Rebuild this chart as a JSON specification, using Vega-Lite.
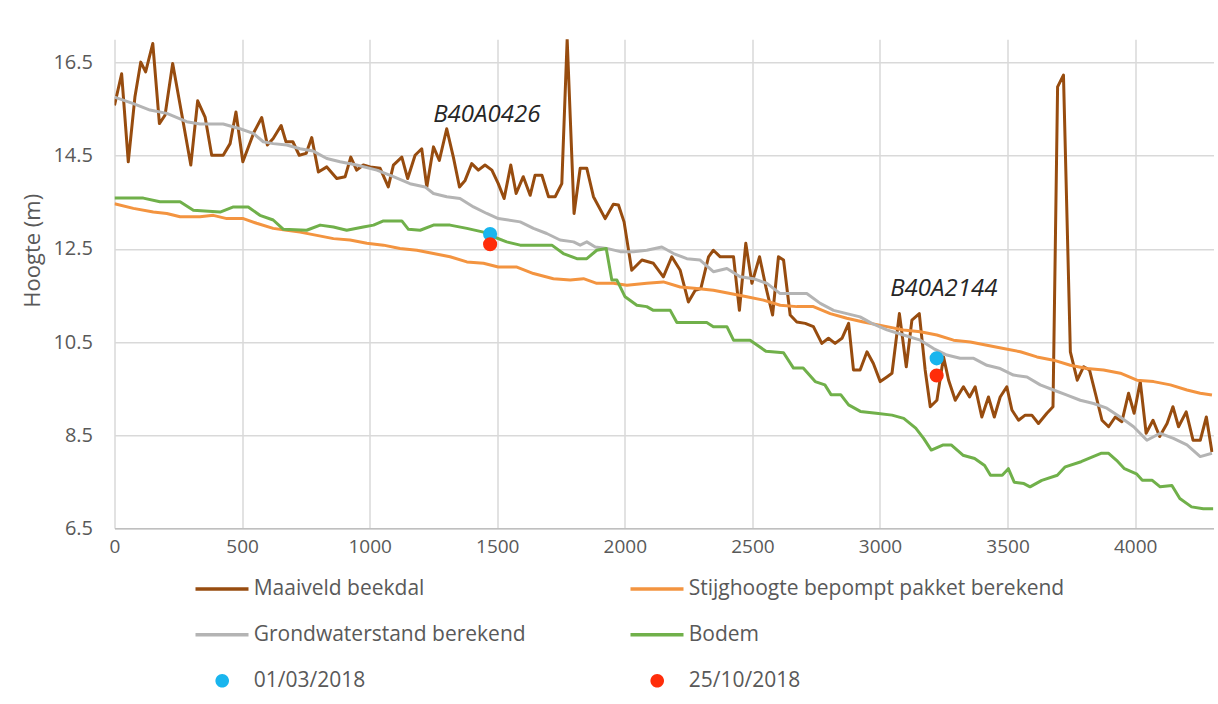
{
  "$schema": "https://vega.github.io/schema/vega-lite/v6.json",
  "width": 1099,
  "height": 489,
  "autosize": "none",
  "padding": {"left": 114.5, "top": 39.3, "right": 4.5, "bottom": 175.7},
  "background": "white",
  "config": {"view": {"stroke": null}, "font": "Open Sans"},
  "datasets": {
    "maaiveld": [
      {"x":0,"y":15.58},{"x":28,"y":16.26},{"x":54,"y":14.37},{"x":80,"y":15.76},{"x":103,"y":16.51},{"x":122,"y":16.30},{"x":150,"y":16.91},{"x":176,"y":15.19},{"x":198,"y":15.37},{"x":228,"y":16.48},{"x":263,"y":15.41},{"x":299,"y":14.30},{"x":326,"y":15.68},{"x":355,"y":15.33},{"x":381,"y":14.51},{"x":426,"y":14.51},{"x":453,"y":14.76},{"x":476,"y":15.44},{"x":503,"y":14.37},{"x":547,"y":15.01},{"x":577,"y":15.32},{"x":599,"y":14.73},{"x":622,"y":14.87},{"x":653,"y":15.15},{"x":672,"y":14.80},{"x":699,"y":14.80},{"x":724,"y":14.51},{"x":751,"y":14.55},{"x":773,"y":14.89},{"x":799,"y":14.15},{"x":832,"y":14.26},{"x":871,"y":14.01},{"x":904,"y":14.05},{"x":926,"y":14.47},{"x":949,"y":14.19},{"x":975,"y":14.30},{"x":1002,"y":14.26},{"x":1041,"y":14.23},{"x":1073,"y":13.83},{"x":1093,"y":14.30},{"x":1126,"y":14.47},{"x":1149,"y":14.01},{"x":1178,"y":14.51},{"x":1204,"y":14.65},{"x":1224,"y":13.83},{"x":1250,"y":14.69},{"x":1273,"y":14.40},{"x":1302,"y":15.08},{"x":1328,"y":14.47},{"x":1352,"y":13.83},{"x":1374,"y":13.97},{"x":1400,"y":14.33},{"x":1426,"y":14.19},{"x":1452,"y":14.30},{"x":1479,"y":14.19},{"x":1504,"y":13.90},{"x":1527,"y":13.58},{"x":1553,"y":14.30},{"x":1574,"y":13.69},{"x":1602,"y":14.05},{"x":1629,"y":13.65},{"x":1648,"y":14.08},{"x":1675,"y":14.08},{"x":1701,"y":13.62},{"x":1727,"y":13.62},{"x":1753,"y":13.90},{"x":1774,"y":17.0},{"x":1801,"y":13.26},{"x":1825,"y":14.23},{"x":1851,"y":14.23},{"x":1877,"y":13.62},{"x":1923,"y":13.15},{"x":1955,"y":13.46},{"x":1975,"y":13.44},{"x":1997,"y":13.08},{"x":2027,"y":12.04},{"x":2067,"y":12.26},{"x":2112,"y":12.19},{"x":2151,"y":11.90},{"x":2184,"y":12.33},{"x":2217,"y":12.04},{"x":2249,"y":11.36},{"x":2276,"y":11.61},{"x":2298,"y":11.65},{"x":2328,"y":12.33},{"x":2347,"y":12.47},{"x":2374,"y":12.33},{"x":2426,"y":12.33},{"x":2449,"y":11.18},{"x":2474,"y":12.62},{"x":2498,"y":11.76},{"x":2528,"y":12.33},{"x":2554,"y":11.65},{"x":2579,"y":11.08},{"x":2602,"y":12.33},{"x":2622,"y":12.26},{"x":2648,"y":11.08},{"x":2674,"y":10.93},{"x":2707,"y":10.90},{"x":2739,"y":10.83},{"x":2772,"y":10.47},{"x":2798,"y":10.58},{"x":2824,"y":10.47},{"x":2851,"y":10.58},{"x":2877,"y":10.90},{"x":2896,"y":9.90},{"x":2922,"y":9.90},{"x":2949,"y":10.29},{"x":2974,"y":10.04},{"x":3001,"y":9.65},{"x":3027,"y":9.75},{"x":3047,"y":9.83},{"x":3076,"y":11.11},{"x":3103,"y":9.97},{"x":3125,"y":10.97},{"x":3154,"y":11.11},{"x":3177,"y":9.90},{"x":3197,"y":9.11},{"x":3223,"y":9.25},{"x":3249,"y":10.18},{"x":3269,"y":9.68},{"x":3295,"y":9.25},{"x":3327,"y":9.54},{"x":3351,"y":9.32},{"x":3373,"y":9.54},{"x":3399,"y":8.89},{"x":3425,"y":9.32},{"x":3448,"y":8.89},{"x":3471,"y":9.32},{"x":3497,"y":9.54},{"x":3517,"y":9.04},{"x":3543,"y":8.82},{"x":3569,"y":8.93},{"x":3595,"y":8.93},{"x":3621,"y":8.75},{"x":3654,"y":8.97},{"x":3678,"y":9.11},{"x":3696,"y":15.98},{"x":3719,"y":16.23},{"x":3746,"y":10.29},{"x":3773,"y":9.68},{"x":3798,"y":9.97},{"x":3821,"y":9.90},{"x":3844,"y":9.40},{"x":3870,"y":8.82},{"x":3896,"y":8.68},{"x":3922,"y":8.89},{"x":3948,"y":8.79},{"x":3974,"y":9.40},{"x":3996,"y":8.97},{"x":4020,"y":9.65},{"x":4043,"y":8.54},{"x":4070,"y":8.82},{"x":4096,"y":8.47},{"x":4125,"y":8.75},{"x":4148,"y":9.11},{"x":4170,"y":8.68},{"x":4200,"y":9.00},{"x":4227,"y":8.39},{"x":4255,"y":8.39},{"x":4279,"y":8.89},{"x":4301,"y":8.14}
    ],
    "stijghoogte": [
      {"x":0,"y":13.47},{"x":74,"y":13.37},{"x":152,"y":13.29},{"x":205,"y":13.26},{"x":257,"y":13.19},{"x":335,"y":13.19},{"x":387,"y":13.22},{"x":440,"y":13.15},{"x":505,"y":13.15},{"x":557,"y":13.05},{"x":622,"y":12.94},{"x":675,"y":12.90},{"x":727,"y":12.86},{"x":793,"y":12.79},{"x":858,"y":12.72},{"x":923,"y":12.69},{"x":989,"y":12.62},{"x":1054,"y":12.58},{"x":1119,"y":12.51},{"x":1185,"y":12.47},{"x":1250,"y":12.40},{"x":1315,"y":12.33},{"x":1381,"y":12.22},{"x":1446,"y":12.19},{"x":1504,"y":12.11},{"x":1577,"y":12.11},{"x":1642,"y":11.97},{"x":1720,"y":11.86},{"x":1786,"y":11.83},{"x":1838,"y":11.86},{"x":1890,"y":11.76},{"x":1955,"y":11.76},{"x":2008,"y":11.72},{"x":2086,"y":11.76},{"x":2151,"y":11.79},{"x":2217,"y":11.68},{"x":2282,"y":11.65},{"x":2347,"y":11.61},{"x":2413,"y":11.54},{"x":2478,"y":11.47},{"x":2543,"y":11.40},{"x":2609,"y":11.29},{"x":2674,"y":11.26},{"x":2739,"y":11.26},{"x":2805,"y":11.11},{"x":2870,"y":11.01},{"x":2935,"y":10.93},{"x":3027,"y":10.83},{"x":3092,"y":10.76},{"x":3158,"y":10.72},{"x":3223,"y":10.65},{"x":3288,"y":10.54},{"x":3354,"y":10.50},{"x":3419,"y":10.43},{"x":3484,"y":10.36},{"x":3550,"y":10.29},{"x":3615,"y":10.18},{"x":3680,"y":10.11},{"x":3746,"y":10.00},{"x":3811,"y":9.93},{"x":3876,"y":9.90},{"x":3942,"y":9.83},{"x":4007,"y":9.68},{"x":4072,"y":9.65},{"x":4138,"y":9.58},{"x":4203,"y":9.47},{"x":4255,"y":9.40},{"x":4301,"y":9.36}
    ],
    "grondwater": [
      {"x":0,"y":15.76},{"x":74,"y":15.62},{"x":139,"y":15.48},{"x":205,"y":15.41},{"x":283,"y":15.23},{"x":335,"y":15.18},{"x":426,"y":15.18},{"x":492,"y":15.08},{"x":544,"y":14.98},{"x":583,"y":14.80},{"x":622,"y":14.76},{"x":675,"y":14.73},{"x":727,"y":14.65},{"x":779,"y":14.60},{"x":832,"y":14.44},{"x":884,"y":14.37},{"x":949,"y":14.30},{"x":1028,"y":14.19},{"x":1093,"y":14.05},{"x":1158,"y":13.90},{"x":1217,"y":13.83},{"x":1250,"y":13.69},{"x":1302,"y":13.62},{"x":1354,"y":13.58},{"x":1407,"y":13.40},{"x":1459,"y":13.26},{"x":1504,"y":13.15},{"x":1590,"y":13.08},{"x":1642,"y":12.94},{"x":1694,"y":12.83},{"x":1746,"y":12.69},{"x":1799,"y":12.65},{"x":1825,"y":12.58},{"x":1851,"y":12.65},{"x":1884,"y":12.54},{"x":1929,"y":12.51},{"x":1982,"y":12.44},{"x":2034,"y":12.44},{"x":2086,"y":12.47},{"x":2145,"y":12.54},{"x":2191,"y":12.40},{"x":2243,"y":12.29},{"x":2295,"y":12.26},{"x":2347,"y":12.01},{"x":2400,"y":12.08},{"x":2452,"y":11.90},{"x":2504,"y":11.86},{"x":2557,"y":11.76},{"x":2609,"y":11.54},{"x":2713,"y":11.54},{"x":2766,"y":11.33},{"x":2818,"y":11.18},{"x":2870,"y":11.11},{"x":2922,"y":11.04},{"x":2968,"y":10.90},{"x":3027,"y":10.76},{"x":3092,"y":10.65},{"x":3158,"y":10.54},{"x":3210,"y":10.36},{"x":3262,"y":10.22},{"x":3314,"y":10.15},{"x":3367,"y":10.15},{"x":3419,"y":10.00},{"x":3471,"y":9.93},{"x":3523,"y":9.79},{"x":3576,"y":9.75},{"x":3628,"y":9.58},{"x":3680,"y":9.47},{"x":3733,"y":9.36},{"x":3785,"y":9.25},{"x":3837,"y":9.18},{"x":3889,"y":9.08},{"x":3941,"y":8.89},{"x":3994,"y":8.68},{"x":4046,"y":8.39},{"x":4098,"y":8.54},{"x":4150,"y":8.43},{"x":4203,"y":8.29},{"x":4255,"y":8.04},{"x":4301,"y":8.11}
    ],
    "bodem": [
      {"x":0,"y":13.59},{"x":113,"y":13.59},{"x":178,"y":13.51},{"x":257,"y":13.51},{"x":309,"y":13.33},{"x":414,"y":13.29},{"x":466,"y":13.40},{"x":524,"y":13.40},{"x":570,"y":13.22},{"x":622,"y":13.12},{"x":662,"y":12.92},{"x":753,"y":12.90},{"x":806,"y":13.01},{"x":858,"y":12.97},{"x":910,"y":12.90},{"x":975,"y":12.97},{"x":1015,"y":13.01},{"x":1054,"y":13.10},{"x":1126,"y":13.10},{"x":1152,"y":12.92},{"x":1198,"y":12.90},{"x":1250,"y":13.01},{"x":1315,"y":13.01},{"x":1381,"y":12.94},{"x":1446,"y":12.86},{"x":1485,"y":12.76},{"x":1537,"y":12.65},{"x":1590,"y":12.58},{"x":1714,"y":12.58},{"x":1759,"y":12.40},{"x":1812,"y":12.29},{"x":1851,"y":12.29},{"x":1890,"y":12.47},{"x":1927,"y":12.51},{"x":1949,"y":11.83},{"x":1969,"y":11.83},{"x":2001,"y":11.47},{"x":2047,"y":11.29},{"x":2086,"y":11.26},{"x":2112,"y":11.18},{"x":2178,"y":11.18},{"x":2204,"y":10.92},{"x":2321,"y":10.92},{"x":2347,"y":10.83},{"x":2400,"y":10.83},{"x":2426,"y":10.54},{"x":2491,"y":10.54},{"x":2553,"y":10.30},{"x":2622,"y":10.27},{"x":2661,"y":9.94},{"x":2699,"y":9.94},{"x":2746,"y":9.65},{"x":2784,"y":9.58},{"x":2808,"y":9.37},{"x":2846,"y":9.37},{"x":2877,"y":9.15},{"x":2923,"y":9.01},{"x":2985,"y":8.97},{"x":3047,"y":8.93},{"x":3093,"y":8.86},{"x":3140,"y":8.65},{"x":3171,"y":8.43},{"x":3201,"y":8.18},{"x":3248,"y":8.29},{"x":3279,"y":8.29},{"x":3325,"y":8.07},{"x":3371,"y":8.00},{"x":3410,"y":7.85},{"x":3433,"y":7.64},{"x":3479,"y":7.64},{"x":3503,"y":7.78},{"x":3526,"y":7.49},{"x":3564,"y":7.46},{"x":3588,"y":7.39},{"x":3634,"y":7.53},{"x":3695,"y":7.64},{"x":3726,"y":7.82},{"x":3788,"y":7.93},{"x":3835,"y":8.04},{"x":3866,"y":8.11},{"x":3896,"y":8.11},{"x":3927,"y":7.96},{"x":3958,"y":7.78},{"x":4005,"y":7.67},{"x":4028,"y":7.53},{"x":4067,"y":7.53},{"x":4098,"y":7.39},{"x":4144,"y":7.42},{"x":4175,"y":7.14},{"x":4221,"y":6.96},{"x":4267,"y":6.92},{"x":4306,"y":6.92}
    ],
    "metingen": [
      {"date":"01/03/2018","x":1472,"y":12.82},
      {"date":"25/10/2018","x":1472,"y":12.60},
      {"date":"01/03/2018","x":3222,"y":10.15},
      {"date":"25/10/2018","x":3222,"y":9.78}
    ],
    "labels": [
      {"label":"B40A0426","x":1459,"y":15.23},
      {"label":"B40A2144","x":3250,"y":11.48}
    ]
  },
  "encoding": {
    "x": {
      "field": "x", "type": "quantitative",
      "scale": {"domain": [0, 4307], "nice": false, "zero": false},
      "axis": {
        "title": null, "values": [0,500,1000,1500,2000,2500,3000,3500,4000], "format": "d",
        "grid": true, "gridColor": "#D9D9D9", "gridWidth": 1.5,
        "domainColor": "#BFBFBF", "domainWidth": 1.5,
        "ticks": false, "tickSize": 0, "labelPadding": 9, "labelFlush": false,
        "labelFont": "Open Sans", "labelFontSize": 19, "labelColor": "#595959"
      }
    },
    "y": {
      "field": "y", "type": "quantitative",
      "scale": {"domain": [6.5, 17.0], "nice": false, "zero": false},
      "axis": {
        "title": "Hoogte (m)", "values": [6.5,8.5,10.5,12.5,14.5,16.5], "format": ".1f",
        "grid": true, "gridColor": "#D9D9D9", "gridWidth": 1.5,
        "domain": false, "ticks": false, "tickSize": 0, "labelPadding": 22, "labelFlush": false,
        "labelFont": "Open Sans", "labelFontSize": 20, "labelColor": "#595959",
        "titleFont": "Open Sans", "titleFontSize": 22, "titleFontWeight": "normal", "titleColor": "#595959",
        "titleX": -82, "titleY": 211, "titleAlign": "center", "titleBaseline": "middle", "titleAngle": 270
      }
    }
  },
  "layer": [
    {
      "data": {"name": "maaiveld"},
      "mark": {"type": "line", "strokeWidth": 3, "strokeJoin": "round", "clip": true},
      "encoding": {
        "color": {
          "datum": "Maaiveld beekdal", "type": "nominal", "title": null,
          "scale": {
            "domain": ["Maaiveld beekdal", "Stijghoogte bepompt pakket berekend", "Grondwaterstand berekend", "Bodem", "01/03/2018", "25/10/2018"],
            "range": ["#974C0F", "#F39440", "#B4B4B4", "#70B04A", "#19B5EE", "#FF2D0A"]
          },
          "legend": {
            "title": null, "orient": "none", "legendX": 80.5, "legendY": 539, "columns": 2, "direction": "horizontal",
            "padding": 0, "columnPadding": 97, "rowPadding": 24,
            "symbolType": "M-1,0H4.3", "symbolSize": 400, "symbolStrokeWidth": 3.5,
            "labelFont": "Open Sans", "labelFontSize": 21, "labelColor": "#595959", "labelOffset": 37.7, "labelLimit": 500,
            "encode": {
              "symbols": {
                "update": {
                  "shape": {"signal": "(datum.value == '01/03/2018' || datum.value == '25/10/2018') ? 'M0.99,0A0.68,0.68,0,1,0,2.35,0A0.68,0.68,0,1,0,0.99,0Z' : 'M-1,0H4.3'"},
                  "fill": {"signal": "(datum.value == '01/03/2018' || datum.value == '25/10/2018') ? scale('color', datum.value) : 'transparent'"},
                  "stroke": {"signal": "(datum.value == '01/03/2018' || datum.value == '25/10/2018') ? 'transparent' : scale('color', datum.value)"},
                  "strokeWidth": {"signal": "(datum.value == '01/03/2018' || datum.value == '25/10/2018') ? 0 : 3.5"},
                  "opacity": {"value": 1}
                }
              }
            }
          }
        }
      }
    },
    {
      "data": {"name": "stijghoogte"},
      "mark": {"type": "line", "strokeWidth": 3, "strokeJoin": "round", "clip": true},
      "encoding": {"color": {"datum": "Stijghoogte bepompt pakket berekend", "type": "nominal", "title": null}}
    },
    {
      "data": {"name": "grondwater"},
      "mark": {"type": "line", "strokeWidth": 3, "strokeJoin": "round", "clip": true},
      "encoding": {"color": {"datum": "Grondwaterstand berekend", "type": "nominal", "title": null}}
    },
    {
      "data": {"name": "bodem"},
      "mark": {"type": "line", "strokeWidth": 3, "strokeJoin": "round", "clip": true},
      "encoding": {"color": {"datum": "Bodem", "type": "nominal", "title": null}}
    },
    {
      "data": {"name": "metingen"},
      "mark": {"type": "point", "filled": true, "size": 200, "opacity": 1},
      "encoding": {"color": {"field": "date", "type": "nominal", "title": null}}
    },
    {
      "data": {"name": "labels"},
      "mark": {"type": "text", "font": "Open Sans", "fontSize": 24, "fontStyle": "italic", "color": "#262626", "align": "center", "baseline": "alphabetic"},
      "encoding": {"text": {"field": "label", "type": "nominal"}}
    }
  ]
}
